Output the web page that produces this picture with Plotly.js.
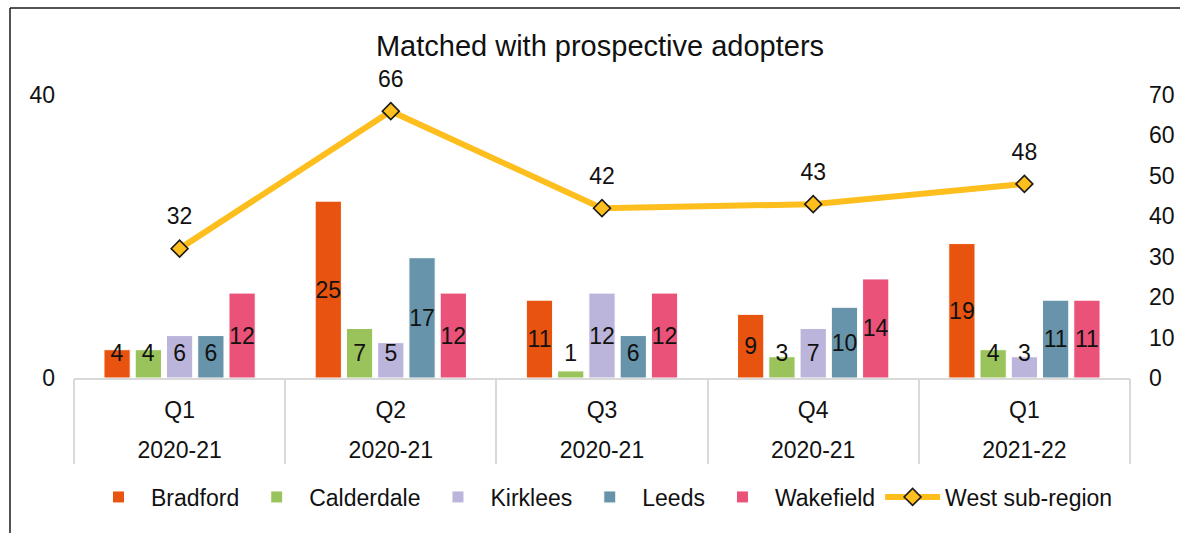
<!DOCTYPE html>
<html>
<head>
<meta charset="utf-8">
<script src="https://cdn.plot.ly/plotly-3.0.1.min.js"></script>
<style>
  html, body { margin: 0; padding: 0; background: #ffffff; }
  #chart { width: 1180px; height: 533px; }
</style>
</head>
<body>
<div id="chart"></div>
<script>
// ---- Data ----
const quarters = ["Q1", "Q2", "Q3", "Q4", "Q1"];
const years = ["2020-21", "2020-21", "2020-21", "2020-21", "2021-22"];

const bradford   = [4, 25, 11, 9, 19];
const calderdale = [4, 7, 1, 3, 4];
const kirklees   = [6, 5, 12, 7, 3];
const leeds      = [6, 17, 6, 10, 11];
const wakefield  = [12, 12, 12, 14, 11];
const westSubRegion = [32, 66, 42, 43, 48];

const seriesNames = ["Bradford", "Calderdale", "Kirklees", "Leeds", "Wakefield"];
const seriesValues = [bradford, calderdale, kirklees, leeds, wakefield];
const seriesColors = ["#E8540F", "#9AC45B", "#BCB5DB", "#6794AB", "#EA5279"];
const lineName = "West sub-region";
const lineColor = "#FDBE1E";

const chartTitle = "Matched with prospective adopters";
const leftTicks = [0, 40];

// ---- Build traces ----
const FONT = "'Liberation Sans', Arial, sans-serif";
const idx = quarters.map((_, i) => i);
const traces = [];

seriesNames.forEach((name, s) => {
  traces.push({
    type: "bar",
    name: name,
    x: idx,
    y: seriesValues[s],
    offsetgroup: name,
    marker: { color: seriesColors[s], line: { color: "#ffffff", width: 1 } },
    hoverinfo: "name+y",
    xaxis: "x", yaxis: "y"
  });
});
// label carriers (transparent) sharing each bar's slot so small bars keep readable labels
seriesNames.forEach((name, s) => {
  traces.push({
    type: "bar",
    name: name + " labels",
    x: idx,
    y: seriesValues[s].map(v => Math.max(v, 7)),
    offsetgroup: name,
    text: seriesValues[s].map(String),
    textposition: "inside",
    insidetextanchor: "middle",
    constraintext: "none",
    textangle: 0,
    textfont: { family: FONT, size: 23, color: "#111111" },
    marker: { color: "rgba(0,0,0,0)", line: { width: 0 } },
    showlegend: false,
    hoverinfo: "skip",
    xaxis: "x", yaxis: "y"
  });
});

traces.push({
  type: "scatter",
  mode: "lines+markers",
  name: lineName,
  x: idx,
  y: westSubRegion,
  line: { color: lineColor, width: 6 },
  marker: { symbol: "diamond", size: 13, color: lineColor, line: { color: "#1a1a1a", width: 1.6 } },
  cliponaxis: false,
  xaxis: "x3", yaxis: "y2"
});
traces.push({
  type: "scatter",
  mode: "text+markers",
  x: idx,
  y: westSubRegion,
  text: westSubRegion.map(String),
  textposition: "top center",
  textfont: { family: FONT, size: 23, color: "#111111" },
  marker: { size: 28, opacity: 0 },
  cliponaxis: false,
  showlegend: false,
  hoverinfo: "skip",
  xaxis: "x2", yaxis: "y2"
});

// ---- Layout ----
const L = 74, R = 50, T = 95, B = 155, W = 1180, H = 533;
const pw = W - L - R, ph = H - T - B;
const px = v => (v - L) / pw;          // pixel -> paper x
const py = v => (H - B - v) / ph;      // pixel -> paper y

const xr = [-0.5, quarters.length - 0.5];
const layout = {
  width: W, height: H,
  margin: { l: L, r: R, t: T, b: B, pad: 0 },
  paper_bgcolor: "#ffffff",
  plot_bgcolor: "#ffffff",
  font: { family: FONT, size: 22, color: "#111111" },
  title: {
    text: chartTitle,
    font: { family: FONT, size: 29, color: "#111111" },
    x: 600 / W, xref: "container", xanchor: "center",
    y: 1 - 46 / H, yref: "container", yanchor: "middle"
  },
  barmode: "group",
  bargap: 0.26,
  bargroupgap: 0.16,
  showlegend: true,
  legend: {
    orientation: "h",
    x: 0.5, xanchor: "center",
    y: py(497), yanchor: "middle",
    font: { family: FONT, size: 23, color: "#111111" },
    traceorder: "normal",
    itemwidth: 55
  },
  xaxis: {
    range: xr,
    tickmode: "array",
    tickvals: idx,
    ticktext: quarters,
    ticks: "",
    showgrid: false,
    zeroline: false,
    showline: true, linecolor: "#d9d9d9", linewidth: 2,
    ticklabelstandoff: 10,
    tickfont: { family: FONT, size: 23, color: "#111111" },
    fixedrange: true
  },
  xaxis2: {
    overlaying: "x", anchor: "y", side: "bottom",
    range: xr,
    tickmode: "array",
    tickvals: idx,
    ticktext: years,
    ticks: "",
    showgrid: false, zeroline: false, showline: false,
    ticklabelstandoff: 56,
    tickfont: { family: FONT, size: 23, color: "#111111" }
  },
  xaxis3: {
    overlaying: "x", anchor: "y", side: "bottom",
    range: xr,
    tickmode: "array",
    tickvals: idx.map(i => i - 0.5).concat([quarters.length - 0.5]),
    ticks: "outside", ticklen: 85, tickwidth: 2, tickcolor: "#d9d9d9",
    showticklabels: false,
    showgrid: false, zeroline: false, showline: false
  },
  yaxis: {
    range: [0, 40],
    tickmode: "array",
    tickvals: leftTicks,
    showgrid: true, gridcolor: "#d9d9d9", gridwidth: 2,
    zeroline: false, showline: false,
    ticks: "",
    ticklabelstandoff: 18,
    tickfont: { family: FONT, size: 23, color: "#111111" },
    fixedrange: true
  },
  yaxis2: {
    overlaying: "y", side: "right", anchor: "x",
    range: [0, 70],
    dtick: 10,
    showgrid: false, zeroline: false, showline: false,
    ticks: "",
    ticklabelstandoff: 18,
    tickfont: { family: FONT, size: 23, color: "#111111" },
    fixedrange: true
  },
  shapes: [
    { type: "line", xref: "paper", yref: "paper", x0: px(10), x1: px(1200), y0: py(8), y1: py(8),
      line: { color: "#1a1a1a", width: 1.5 } },
    { type: "line", xref: "paper", yref: "paper", x0: px(10), x1: px(10), y0: py(8), y1: py(560),
      line: { color: "#1a1a1a", width: 1.5 } }
  ]
};

Plotly.newPlot("chart", traces, layout, { displayModeBar: false, staticPlot: true });
</script>
</body>
</html>
